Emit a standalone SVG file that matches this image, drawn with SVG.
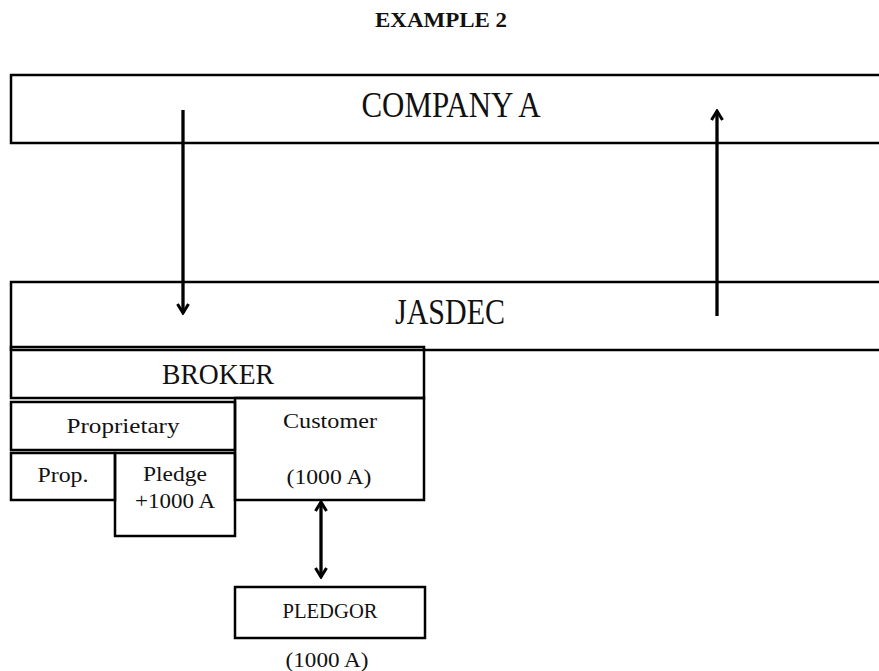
<svg xmlns="http://www.w3.org/2000/svg" width="879" height="671" viewBox="0 0 879 671">
<style>
.box{fill:none;stroke:#000;stroke-width:2.5}
.t{font-family:"Liberation Serif","Times New Roman",serif;fill:#111;text-anchor:middle}
.big{font-size:35px}
.mid{font-size:29px}
.sm{font-size:22px}
.title{font-size:21px;font-weight:bold}
.arr{fill:none;stroke:#000;stroke-width:3.3}
</style>
<defs>
<marker id="ah" viewBox="0 0 14 14" refX="12" refY="7" markerWidth="14" markerHeight="14" markerUnits="userSpaceOnUse" orient="auto-start-reverse">
<polyline points="3,1.5 12,7 3,12.5" fill="none" stroke="#000" stroke-width="3"/>
</marker>
</defs>
<rect width="879" height="671" fill="#fff"/>
<text class="t title" x="441" y="27" textLength="132" lengthAdjust="spacingAndGlyphs">EXAMPLE 2</text>
<g id="companyA">
<rect class="box" x="11" y="75" width="880" height="68"/>
<text class="t big" x="451" y="117" textLength="179" lengthAdjust="spacingAndGlyphs">COMPANY A</text>
</g>
<g id="jasdec">
<rect class="box" x="11" y="282" width="880" height="68"/>
<text class="t big" x="450" y="324" textLength="110" lengthAdjust="spacingAndGlyphs">JASDEC</text>
</g>
<g id="broker">
<rect class="box" x="11" y="347" width="413" height="51"/>
<text class="t mid" x="218" y="384" textLength="112" lengthAdjust="spacingAndGlyphs">BROKER</text>
</g>
<g id="proprietary">
<rect class="box" x="11" y="402" width="224" height="48"/>
<text class="t sm" x="123" y="433" textLength="113" lengthAdjust="spacingAndGlyphs">Proprietary</text>
</g>
<g id="customer">
<rect class="box" x="235" y="398" width="189" height="102"/>
<text class="t sm" x="330" y="428" textLength="94" lengthAdjust="spacingAndGlyphs">Customer</text>
<text class="t sm" x="329" y="484" textLength="85" lengthAdjust="spacingAndGlyphs">(1000 A)</text>
</g>
<g id="prop">
<rect class="box" x="11" y="453" width="104" height="47"/>
<text class="t sm" x="63" y="482" textLength="51" lengthAdjust="spacingAndGlyphs">Prop.</text>
</g>
<g id="pledge">
<rect class="box" x="115" y="453" width="120" height="83"/>
<text class="t sm" x="175" y="481" textLength="64" lengthAdjust="spacingAndGlyphs">Pledge</text>
<text class="t sm" x="175" y="508" textLength="80" lengthAdjust="spacingAndGlyphs">+1000 A</text>
</g>
<g id="pledgor">
<rect class="box" x="235" y="587" width="190" height="51"/>
<text class="t sm" x="330" y="618" textLength="95" lengthAdjust="spacingAndGlyphs">PLEDGOR</text>
<text class="t sm" x="327" y="667" textLength="83" lengthAdjust="spacingAndGlyphs">(1000 A)</text>
</g>
<g id="connectors">
<line class="arr" x1="183" y1="110" x2="183" y2="313" marker-end="url(#ah)"/>
<line class="arr" x1="717" y1="316" x2="717" y2="111" marker-end="url(#ah)"/>
<line class="arr" x1="321" y1="502" x2="321" y2="577" marker-start="url(#ah)" marker-end="url(#ah)"/>
</g>
</svg>
